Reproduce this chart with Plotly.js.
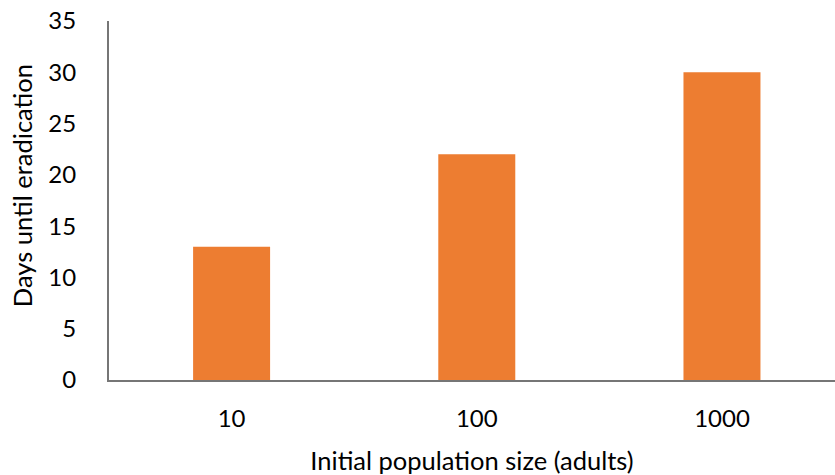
<!DOCTYPE html>
<html>
<head>
<meta charset="utf-8">
<script src="https://cdn.plot.ly/plotly-3.0.1.min.js"></script>
<style>html,body{margin:0;padding:0;background:#fff;overflow:hidden}#chart{width:835px;height:475px}</style>
</head>
<body>
<div id="chart"></div>
<script>
const categories = ["10", "100", "1000"];
const daysUntilEradication = [13, 22, 30];
const yTickValues = [0, 5, 10, 15, 20, 25, 30, 35];
const xTitle = "Initial population size (adults)";
const yTitle = "Days until eradication";

const tickFont = {family: "Lato, 'Liberation Sans', sans-serif", color: "#000", size: 24};
const titleFont = {family: "Lato, 'Liberation Sans', sans-serif", color: "#000", size: 25.5};

const trace = {
  type: "bar",
  x: categories,
  y: daysUntilEradication,
  marker: {color: "#ED7D31"},
  hoverinfo: "skip"
};

const layout = {
  width: 835,
  height: 475,
  margin: {l: 109, r: 0, t: 21, b: 95},
  paper_bgcolor: "#fff",
  plot_bgcolor: "#fff",
  font: tickFont,
  bargap: 0.686,
  showlegend: false,
  xaxis: {
    type: "category",
    range: [-0.5, 2.461],
    showline: true,
    linecolor: "#767676",
    linewidth: 2,
    ticks: "",
    showgrid: false,
    zeroline: false,
    ticklabelstandoff: 16,
    tickfont: tickFont,
    title: {text: xTitle, font: titleFont, standoff: 21}
  },
  yaxis: {
    range: [0, 35],
    tickvals: yTickValues,
    showline: true,
    linecolor: "#767676",
    linewidth: 2,
    ticks: "",
    showgrid: false,
    zeroline: false,
    ticklabelstandoff: 26,
    tickfont: tickFont
  },
  annotations: [{
    text: yTitle,
    xref: "paper", yref: "paper",
    x: 0, y: 0.54,
    xanchor: "center", yanchor: "middle",
    xshift: -87,
    textangle: -90,
    showarrow: false,
    font: titleFont
  }]
};

Plotly.newPlot("chart", [trace], layout, {staticPlot: true, displayModeBar: false});
</script>
</body>
</html>
